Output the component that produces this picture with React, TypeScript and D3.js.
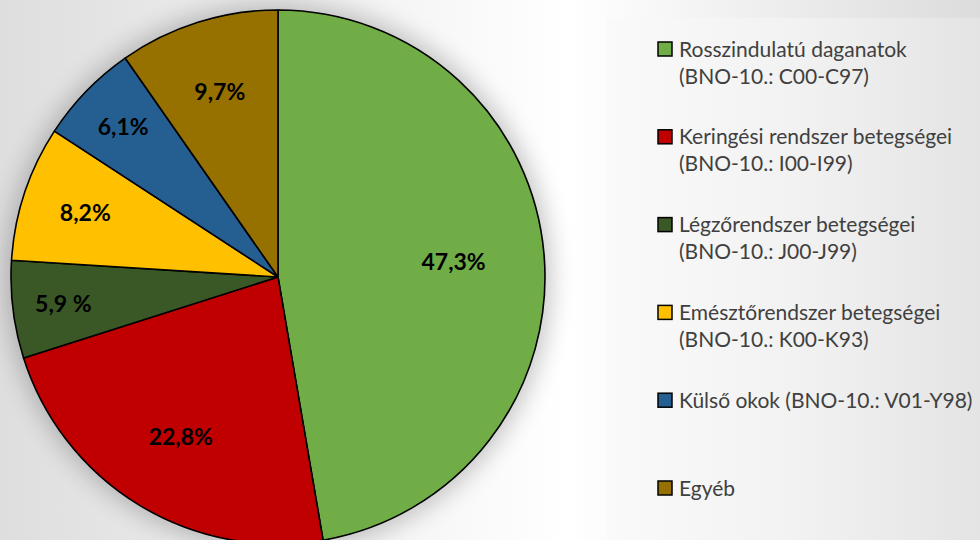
import * as d3 from "d3";
import { useEffect, useRef } from "react";

const categories = [
  "Rosszindulatú daganatok|(BNO-10.: C00-C97)",
  "Keringési rendszer betegségei|(BNO-10.: I00-I99)",
  "Légzőrendszer betegségei|(BNO-10.: J00-J99)",
  "Emésztőrendszer betegségei|(BNO-10.: K00-K93)",
  "Külső okok (BNO-10.: V01-Y98)",
  "Egyéb",
];
const values = [47.3, 22.8, 5.9, 8.2, 6.1, 9.7];
const valueLabels = ["47,3%", "22,8%", "5,9 %", "8,2%", "6,1%", "9,7%"];
const colors = ["#70ad47", "#c00000", "#3a5726", "#ffc000", "#255e91", "#977100"];

export default function App() {
  const ref = useRef<SVGSVGElement>(null);

  useEffect(() => {
    if (!ref.current) return;
    const el = ref.current;
    d3.select(el).selectAll("*").remove();

    const W = 980;
    const H = 540;
    const cx = 278;
    const cy = 277;
    const R = 267;

    const svg = d3.select(el).attr("width", W).attr("height", H).attr("viewBox", `0 0 ${W} ${H}`);
    const defs = svg.append("defs");

    const bg = defs.append("linearGradient").attr("id", "bg").attr("x1", "0").attr("x2", "1").attr("y1", "0").attr("y2", "0");
    bg.append("stop").attr("offset", "0").attr("stop-color", "#dedede");
    bg.append("stop").attr("offset", "0.58").attr("stop-color", "#ffffff");
    bg.append("stop").attr("offset", "1").attr("stop-color", "#dcdcdc");

    const box = defs.append("linearGradient").attr("id", "box").attr("x1", "0").attr("x2", "1").attr("y1", "0").attr("y2", "0");
    box.append("stop").attr("offset", "0").attr("stop-color", "#fafafa");
    box.append("stop").attr("offset", "0.5").attr("stop-color", "#f2f2f2");
    box.append("stop").attr("offset", "1").attr("stop-color", "#e4e4e4");

    const blur = defs.append("filter").attr("id", "shadow").attr("x", "-30%").attr("y", "-30%").attr("width", "160%").attr("height", "160%");
    blur.append("feGaussianBlur").attr("stdDeviation", 12);

    svg.append("rect").attr("width", W).attr("height", H).attr("fill", "url(#bg)");
    svg.append("rect").attr("x", 606).attr("y", 18).attr("width", W - 606).attr("height", H - 18).attr("fill", "url(#box)");

    // soft shadow round the pie
    svg
      .append("circle")
      .attr("cx", cx)
      .attr("cy", cy)
      .attr("r", R + 6)
      .attr("fill", "#000")
      .attr("opacity", 0.22)
      .attr("filter", "url(#shadow)");

    const data = values.map((v, i) => ({ v, i }));
    const pie = d3
      .pie<(typeof data)[0]>()
      .value(d => d.v)
      .sort(null);
    const arc = d3.arc<d3.PieArcDatum<(typeof data)[0]>>().innerRadius(0).outerRadius(R);

    const g = svg.append("g").attr("transform", `translate(${cx},${cy})`);
    const arcs = pie(data);

    g.selectAll("path")
      .data(arcs)
      .join("path")
      .attr("d", arc)
      .attr("fill", d => colors[d.data.i])
      .attr("stroke", "#000")
      .attr("stroke-width", 1.6)
      .attr("stroke-linejoin", "round");

    // thin slices push their label further out
    const labelR = d3.scaleLinear().domain([6, 10, 23, 47]).range([0.81, 0.72, 0.7, 0.66]).clamp(true);

    g.selectAll("text")
      .data(arcs)
      .join("text")
      .attr("transform", d => {
        const r = R * labelR(d.data.v);
        const a = (d.startAngle + d.endAngle) / 2;
        return `translate(${r * Math.sin(a)},${-r * Math.cos(a)})`;
      })
      .attr("text-anchor", "middle")
      .attr("dy", "0.36em")
      .attr("font-family", "Lato, 'Open Sans', sans-serif")
      .attr("font-weight", 700)
      .attr("font-size", 23)
      .attr("fill", "#000")
      .text(d => valueLabels[d.data.i]);

    // Legend
    const y = d3.scalePoint<string>().domain(categories).range([49, 488]);
    const legend = svg.append("g");
    categories.forEach((c, i) => {
      const yy = y(c) as number;
      legend
        .append("rect")
        .attr("x", 658)
        .attr("y", yy - 7)
        .attr("width", 14)
        .attr("height", 14)
        .attr("fill", colors[i])
        .attr("stroke", "#000")
        .attr("stroke-width", 1.5);
      const t = legend
        .append("text")
        .attr("x", 679)
        .attr("y", yy)
        .attr("font-family", "Lato, 'Open Sans', sans-serif")
        .attr("font-size", 21)
        .attr("fill", "#404040");
      c.split("|").forEach((line, j) => {
        t.append("tspan")
          .attr("x", 679)
          .attr("y", yy + j * 27)
          .attr("dy", "0.36em")
          .text(line);
      });
    });
  }, []);

  return <svg ref={ref} style={{ position: "absolute", left: 0, top: 0, display: "block" }} />;
}
